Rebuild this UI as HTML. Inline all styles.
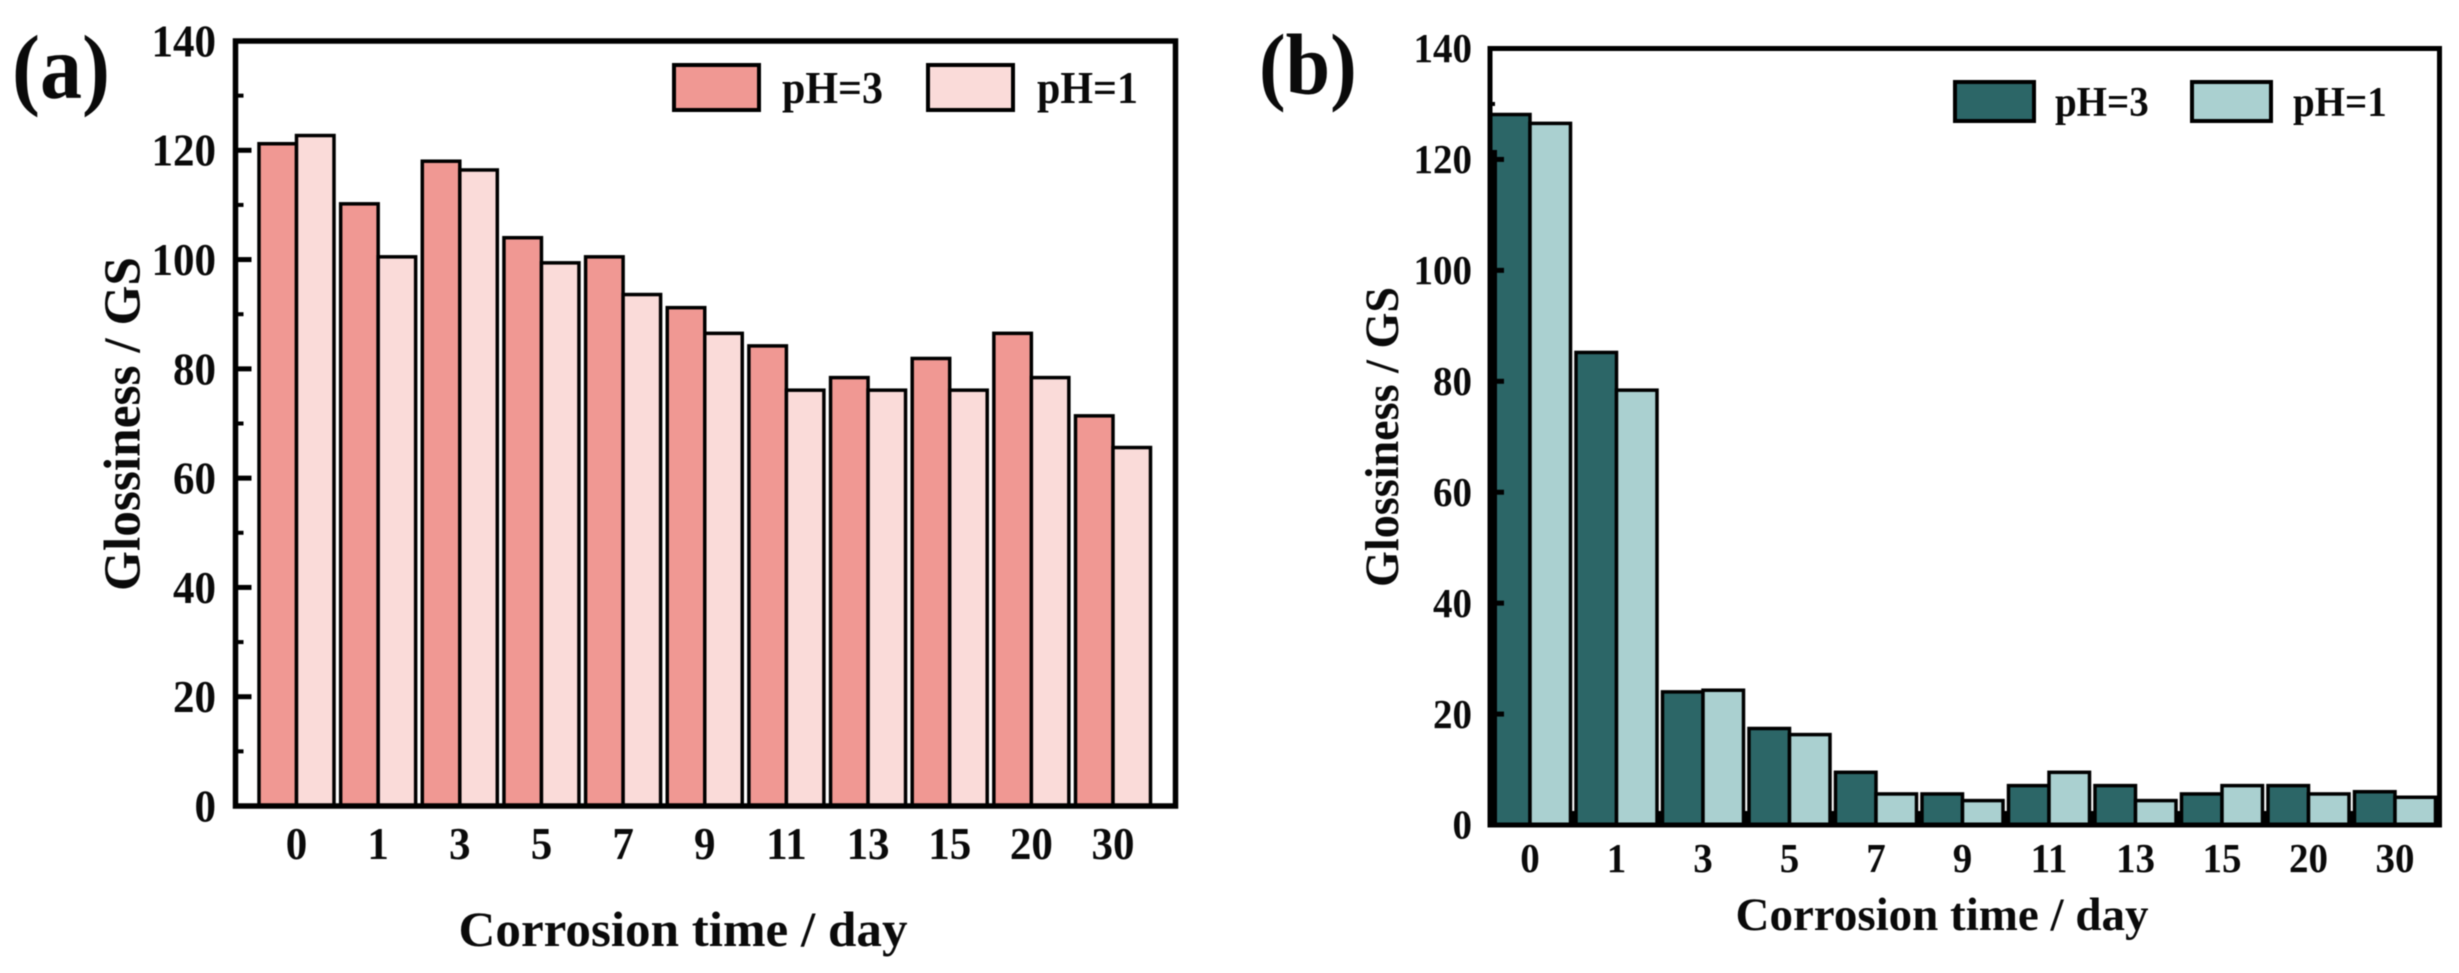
<!DOCTYPE html>
<html lang="en">
<head>
<meta charset="utf-8">
<title>Glossiness vs corrosion time</title>
<style>
html,body{margin:0;padding:0;background:#fff;}
svg{display:block;filter:blur(0.5px);}
text{font-family:"Liberation Serif",serif;font-weight:bold;fill:#0a0a0a;}
</style>
</head>
<body>
<svg id="chart" xmlns="http://www.w3.org/2000/svg" width="2459" height="973" viewBox="0 0 2459 973">
  <rect x="0" y="0" width="2459" height="973" fill="#ffffff"/>
  <g id="panel-a"></g>
  <g id="panel-b"></g>
</svg>
<script>
const categories = ["0","1","3","5","7","9","11","13","15","20","30"];
const yTickValues = [0,20,40,60,80,100,120,140];
const yMinorValues = [10,30,50,70,90,110,130];
const seriesNames = ["pH=3","pH=1"];
const panelAPh3 = [121.2,110.2,118,104,100.5,91.2,84.2,78.4,81.9,86.5,71.4];
const panelAPh1 = [122.7,100.5,116.4,99.4,93.6,86.5,76.1,76.1,76.1,78.4,65.6];
const panelBPh3 = [128.1,85.2,24,17.4,9.5,5.6,7.1,7.1,5.6,7.1,6];
const panelBPh1 = [126.5,78.4,24.3,16.3,5.6,4.4,9.5,4.4,7.1,5.6,5];
const yMax = 140;
const NS = "http://www.w3.org/2000/svg";

function make(parent, tag, attrs, txt) {
  const el = document.createElementNS(NS, tag);
  for (const k in attrs) el.setAttribute(k, attrs[k]);
  if (txt !== undefined) el.textContent = txt;
  parent.appendChild(el);
  return el;
}

function stretched(x, y, s) {
  return "translate(" + x + "," + y + ") scale(1," + s + ")";
}

function drawPanel(root, series1, series2, c) {
  const yScale = v => c.bottom - (v / yMax) * (c.bottom - c.top);
  const xScale = i => c.x0 + c.pitch * i;

  if (c.xTickLen) {
    categories.slice(1).forEach((cat, i) => {
      const xb = xScale(i + 0.5);
      const xk = make(root, "line", {x1: xb, x2: xb, y1: c.bottom, y2: c.bottom - c.xTickLen, stroke: "#000", "stroke-width": 4});
      
      
    });
  }

  categories.forEach((cat, i) => {
    const cx = xScale(i);
    const b1 = make(root, "rect", {x: cx - c.half, y: yScale(series1[i]), width: c.half, height: c.bottom - yScale(series1[i]), fill: c.color1, stroke: "#000", "stroke-width": c.barStroke});
    
    
    const b2 = make(root, "rect", {x: cx, y: yScale(series2[i]), width: c.half, height: c.bottom - yScale(series2[i]), fill: c.color2, stroke: "#000", "stroke-width": c.barStroke});
    
    
    const t = make(root, "text", {transform: stretched(cx, c.xLabelY, c.tickStretch), "font-size": c.tickFont, "text-anchor": "middle"}, cat);
    
    
  });

  const frame = make(root, "rect", {x: c.left, y: c.top, width: c.right - c.left, height: c.bottom - c.top, fill: "none", stroke: "#000", "stroke-width": c.frameStroke});
  
  

  if (c.thickTop) {
    const thick = make(root, "rect", {x: c.left, y: c.thickTop, width: 7, height: c.bottom - c.thickTop, fill: "#000"});
    
    
  }

  yTickValues.forEach(v => {
    const y = yScale(v);
    const tk = make(root, "line", {x1: c.left, x2: c.left + c.majorLen, y1: y, y2: y, stroke: "#000", "stroke-width": 5});
    
    
    const lb = make(root, "text", {transform: stretched(c.yLabelX, y + c.tickFont * 0.335 * c.tickStretch, c.tickStretch), "font-size": c.tickFont, "text-anchor": "end"}, String(v));
    
    
  });
  yMinorValues.forEach(v => {
    const y = yScale(v);
    const tk = make(root, "line", {x1: c.left, x2: c.left + c.minorLen, y1: y, y2: y, stroke: "#000", "stroke-width": 4});
    
    
  });

  const yt = make(root, "text", {transform: "translate(" + c.yTitleX + "," + c.yTitleY + ") rotate(-90)", "font-size": c.yTitleFont, "text-anchor": "middle", textLength: c.yTitleLen, lengthAdjust: "spacingAndGlyphs"}, "Glossiness / GS");
  
  

  const xt = make(root, "text", {x: c.xTitleX, y: c.xTitleY, "font-size": c.xTitleFont, "text-anchor": "middle", textLength: c.xTitleLen, lengthAdjust: "spacingAndGlyphs"}, "Corrosion time / day");
  
  

  const pl = make(root, "text", {transform: stretched(c.tagX, c.tagY, 1.08), "font-size": c.tagFont}, c.tag);
  
  

  const s1 = make(root, "rect", {x: c.leg1X, y: c.legY, width: c.legW, height: c.legH, fill: c.color1, stroke: "#000", "stroke-width": 4});
  
  
  const l1 = make(root, "text", {transform: stretched(c.legT1X, c.legTY, 1.08), "font-size": c.legFont}, seriesNames[0]);
  
  
  const s2 = make(root, "rect", {x: c.leg2X, y: c.legY, width: c.legW, height: c.legH, fill: c.color2, stroke: "#000", "stroke-width": 4});
  
  
  const l2 = make(root, "text", {transform: stretched(c.legT2X, c.legTY, 1.08), "font-size": c.legFont}, seriesNames[1]);
  
  
}

drawPanel(document.getElementById("panel-a"), panelAPh3, panelAPh1, {
  left: 235.5, right: 1175.5, top: 41, bottom: 806, frameStroke: 5.5,
  x0: 296.5, pitch: 81.65, half: 37.5, barStroke: 3.5,
  color1: "#F09893", color2: "#FADBD9",
  tickFont: 43, tickStretch: 1.07, yLabelX: 216, xLabelY: 859, majorLen: 16, minorLen: 8,
  yTitleX: 139.5, yTitleY: 424, yTitleFont: 52, yTitleLen: 334,
  xTitleX: 683, xTitleY: 946, xTitleFont: 50, xTitleLen: 449,
  tag: "(a)", tagX: 12, tagY: 98, tagFont: 84,
  leg1X: 674, leg2X: 928, legY: 65, legW: 85, legH: 45,
  legT1X: 782, legT2X: 1037, legTY: 103, legFont: 42
});

drawPanel(document.getElementById("panel-b"), panelBPh3, panelBPh1, {
  left: 1490, right: 2439.5, top: 48.5, bottom: 825, frameStroke: 5,
  x0: 1530, pitch: 86.5, half: 40.5, barStroke: 3.5, thickTop: 150, xTickLen: 14,
  color1: "#2C6667", color2: "#AAD0D0",
  tickFont: 39, tickStretch: 1.05, yLabelX: 1472, xLabelY: 872, majorLen: 14, minorLen: 5,
  yTitleX: 1398, yTitleY: 437, yTitleFont: 48, yTitleLen: 300,
  xTitleX: 1942, xTitleY: 930, xTitleFont: 47, xTitleLen: 413,
  tag: "(b)", tagX: 1259, tagY: 94, tagFont: 80,
  leg1X: 1955, leg2X: 2192, legY: 82, legW: 79, legH: 39,
  legT1X: 2055, legT2X: 2293, legTY: 116, legFont: 39
});
</script>
</body>
</html>
